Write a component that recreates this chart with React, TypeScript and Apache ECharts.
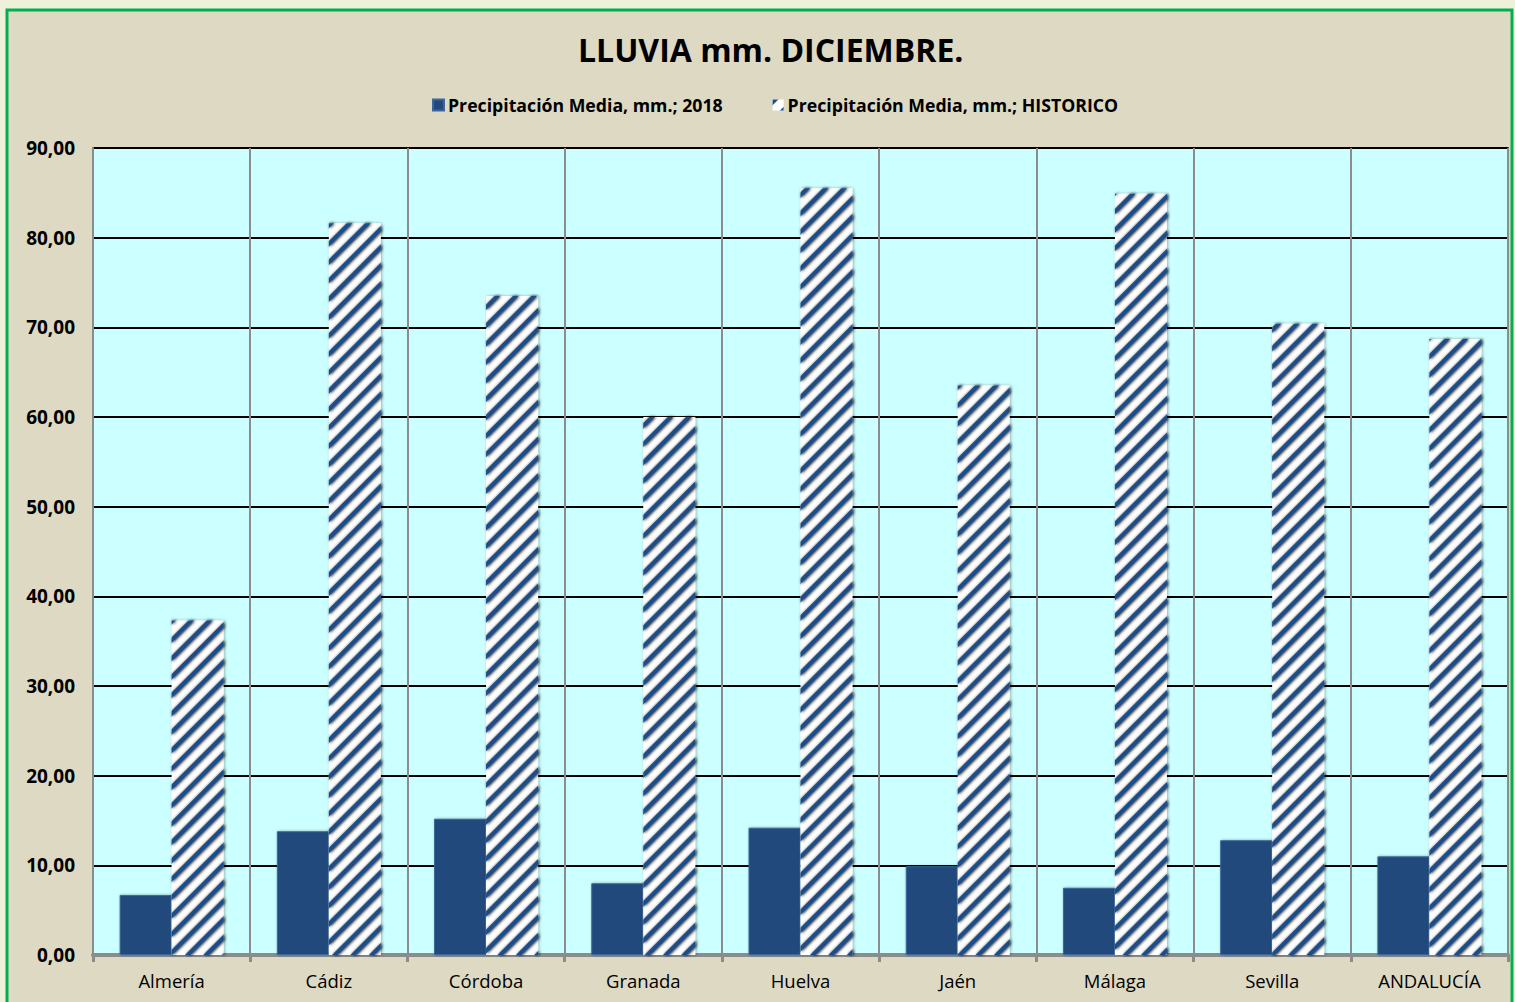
import React, { useEffect, useRef } from "react";
import * as echarts from "echarts";

const categories = ["Almería", "Cádiz", "Córdoba", "Granada", "Huelva", "Jaén", "Málaga", "Sevilla", "ANDALUCÍA"];
const values2018 = [6.7, 13.8, 15.2, 8.0, 14.2, 9.9, 7.5, 12.8, 11.0];
const valuesHistorico = [37.3, 81.6, 73.5, 60.0, 85.5, 63.5, 84.9, 70.4, 68.7];
const seriesNames = ["Precipitación Media, mm.; 2018", "Precipitación Media, mm.; HISTORICO"];
const titleText = "LLUVIA mm. DICIEMBRE.";

const FONT = "'Open Sans', Lato, sans-serif";

export default function App() {
  const ref = useRef<HTMLDivElement>(null);
  useEffect(() => {
    if (!ref.current) return;
    const chart = echarts.init(ref.current, undefined, { renderer: "svg" });
    chart.setOption({
      animation: false,
      backgroundColor: "#eef0da",
      textStyle: { fontFamily: FONT },
      graphic: [
        {
          type: "rect",
          z: -10,
          silent: true,
          shape: { x: 7, y: 10, width: 1505, height: 1000 },
          style: { fill: "#ddd9c3", stroke: "#00b050", lineWidth: 3 },
        },
      ],
      title: {
        text: titleText,
        left: 578,
        top: 33,
        padding: 0,
        textStyle: { fontFamily: FONT, fontSize: 32, fontWeight: "bold", color: "#000" },
      },
      legend: {
        top: 96,
        left: 432,
        padding: 0,
        itemWidth: 11,
        itemHeight: 11,
        itemGap: 50,
        icon: "rect",
        textStyle: { fontFamily: FONT, fontSize: 17.7, fontWeight: "bold", color: "#000", padding: [0, 0, 0, -1] },
        data: seriesNames,
      },
      grid: {
        left: 93,
        right: 7,
        top: 148,
        bottom: 47,
        show: true,
        backgroundColor: "#ccffff",
        borderColor: "#000",
        borderWidth: 1.5,
      },
      xAxis: {
        type: "category",
        data: categories,
        axisLine: { lineStyle: { color: "#8c8c8c", width: 4 } },
        axisTick: { show: true, length: 7, lineStyle: { color: "#8c8c8c", width: 3 } },
        splitLine: { show: true, lineStyle: { color: "#8c8c8c", width: 2 } },
        axisLabel: { fontFamily: FONT, fontSize: 18.5, color: "#000", margin: 16 },
      },
      yAxis: {
        type: "value",
        min: 0,
        max: 90,
        interval: 10,
        axisLine: { show: true, lineStyle: { color: "#8c8c8c", width: 2 } },
        axisTick: { show: false },
        splitLine: { lineStyle: { color: "#000", width: 2 } },
        axisLabel: {
          fontFamily: FONT,
          fontSize: 19,
          fontWeight: "bold",
          color: "#000",
          margin: 18,
          formatter: (v: number) => v.toFixed(2).replace(".", ","),
        },
      },
      series: [
        {
          name: seriesNames[0],
          type: "bar",
          data: values2018,
          barWidth: 52,
          barGap: "0%",
          itemStyle: {
            color: "#23497c",
            borderColor: "#3b679c",
            borderWidth: 1,
            shadowColor: "rgba(0,0,0,0.35)",
            shadowBlur: 3,
            shadowOffsetX: 1,
          },
        },
        {
          name: seriesNames[1],
          type: "bar",
          data: valuesHistorico,
          barWidth: 52,
          barGap: "0%",
          itemStyle: {
            color: "#ffffff",
            shadowColor: "rgba(0,0,0,0.3)",
            shadowBlur: 3,
            shadowOffsetX: 1,
            decal: {
              symbol: "rect",
              symbolSize: 1,
              color: "#1f4e89",
              dashArrayX: [1, 0],
              dashArrayY: [3.5, 9],
              rotation: -Math.PI / 4,
            },
          },
        },
      ],
    });
    return () => chart.dispose();
  }, []);
  return (
    <div
      ref={ref}
      style={{ position: "absolute", left: 0, top: 0, width: 1515, height: 1002 }}
    />
  );
}
